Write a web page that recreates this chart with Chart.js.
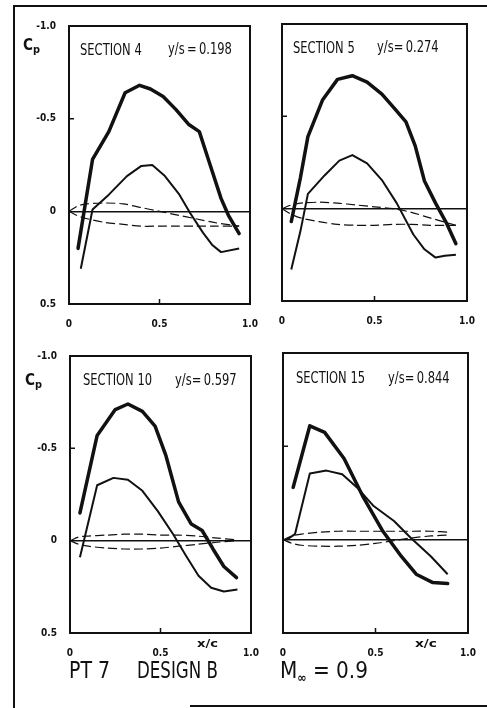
<!DOCTYPE html>
<html><head><meta charset="utf-8">
<script src="https://cdn.jsdelivr.net/npm/chart.js@4.4.0/dist/chart.umd.min.js"></script>
<style>
html,body{margin:0;padding:0;background:#fff;}
#page{position:relative;width:487px;height:708px;overflow:hidden;background:#fff;}
#page canvas{position:absolute;left:0;top:0;}
.t{position:absolute;white-space:nowrap;font-family:"DejaVu Sans Condensed","DejaVu Sans",sans-serif;color:#111;line-height:1;transform-origin:0 0;}
.ln{position:absolute;background:#111;}
</style></head><body>
<div id="page">
  <div class="ln" style="left:13px;top:5px;width:2px;height:703px;"></div>
  <div class="ln" style="left:13px;top:5px;width:474px;height:2px;"></div>
  <div class="ln" style="left:190px;top:705px;width:297px;height:1.5px;"></div>
  <canvas id="c1" width="487" height="708"></canvas>
  <canvas id="c2" width="487" height="708"></canvas>
  <canvas id="c3" width="487" height="708"></canvas>
  <canvas id="c4" width="487" height="708"></canvas>
</div>
<script>
// ---- tick values and labels ----
const xTickValues = [0, 0.5, 1.0];
const xTickLabels = ['0', '0.5', '1.0'];
const yTickValues = [-1.0, -0.5, 0, 0.5];
const yTickLabels = ['-1.0', '-0.5', '0', '0.5'];

// ---- Section 4, y/s = 0.198 ----
const s4UpperX  = [0.05, 0.13, 0.22, 0.31, 0.39, 0.45, 0.52, 0.59, 0.66, 0.72, 0.77, 0.84, 0.88, 0.94];
const s4UpperCp = [0.20, -0.28, -0.43, -0.64, -0.68, -0.66, -0.62, -0.55, -0.47, -0.43, -0.28, -0.07, 0.02, 0.12];
const s4LowerX  = [0.065, 0.13, 0.22, 0.32, 0.40, 0.46, 0.53, 0.61, 0.67, 0.74, 0.79, 0.84, 0.94];
const s4LowerCp = [0.31, -0.01, -0.09, -0.19, -0.245, -0.25, -0.19, -0.09, 0.01, 0.115, 0.18, 0.22, 0.20];
const s4ContourX  = [0, 0.05, 0.10, 0.20, 0.30, 0.40, 0.50, 0.60, 0.70, 0.80, 0.94];
const s4ContourUp = [0, -0.03, -0.04, -0.045, -0.04, -0.02, 0.0, 0.02, 0.04, 0.06, 0.08];
const s4ContourLo = [0, 0.025, 0.04, 0.06, 0.07, 0.08, 0.08, 0.08, 0.08, 0.08, 0.08];

// ---- Section 5, y/s = 0.274 ----
const s5UpperX  = [0.05, 0.10, 0.14, 0.22, 0.30, 0.38, 0.46, 0.54, 0.61, 0.67, 0.72, 0.77, 0.83, 0.89, 0.94];
const s5UpperCp = [0.07, -0.17, -0.39, -0.59, -0.70, -0.72, -0.685, -0.62, -0.54, -0.47, -0.34, -0.15, -0.03, 0.08, 0.19];
const s5LowerX  = [0.05, 0.10, 0.14, 0.23, 0.31, 0.38, 0.46, 0.54, 0.62, 0.71, 0.77, 0.83, 0.88, 0.94];
const s5LowerCp = [0.33, 0.12, -0.08, -0.18, -0.26, -0.29, -0.245, -0.155, -0.03, 0.14, 0.22, 0.265, 0.255, 0.25];
const s5ContourX  = [0, 0.05, 0.10, 0.20, 0.30, 0.40, 0.50, 0.60, 0.70, 0.80, 0.94];
const s5ContourUp = [0, -0.02, -0.03, -0.035, -0.03, -0.02, -0.01, 0.0, 0.02, 0.05, 0.09];
const s5ContourLo = [0, 0.03, 0.05, 0.07, 0.085, 0.09, 0.09, 0.085, 0.085, 0.09, 0.09];

// ---- Section 10, y/s = 0.597 ----
const s10UpperX  = [0.055, 0.15, 0.25, 0.32, 0.40, 0.47, 0.53, 0.60, 0.67, 0.73, 0.79, 0.85, 0.92];
const s10UpperCp = [-0.15, -0.57, -0.71, -0.74, -0.70, -0.62, -0.46, -0.21, -0.09, -0.055, 0.045, 0.14, 0.20];
const s10LowerX  = [0.055, 0.15, 0.24, 0.32, 0.40, 0.485, 0.57, 0.64, 0.71, 0.78, 0.85, 0.925];
const s10LowerCp = [0.09, -0.30, -0.34, -0.33, -0.27, -0.16, -0.035, 0.08, 0.19, 0.255, 0.275, 0.265];
const s10ContourX  = [0, 0.05, 0.10, 0.20, 0.30, 0.40, 0.50, 0.60, 0.70, 0.80, 0.92];
const s10ContourUp = [0, -0.02, -0.025, -0.03, -0.035, -0.035, -0.03, -0.03, -0.025, -0.015, -0.005];
const s10ContourLo = [0, 0.02, 0.03, 0.04, 0.045, 0.045, 0.04, 0.03, 0.02, 0.01, 0];

// ---- Section 15, y/s = 0.844 ----
const s15UpperX  = [0.055, 0.145, 0.225, 0.33, 0.43, 0.54, 0.64, 0.72, 0.81, 0.89];
const s15UpperCp = [-0.28, -0.61, -0.575, -0.435, -0.235, -0.045, 0.09, 0.185, 0.23, 0.235];
const s15LowerX  = [0.02, 0.065, 0.145, 0.235, 0.32, 0.40, 0.49, 0.60, 0.69, 0.80, 0.89];
const s15LowerCp = [0.0, -0.03, -0.355, -0.37, -0.35, -0.28, -0.18, -0.10, -0.01, 0.09, 0.185];
const s15ContourX  = [0, 0.05, 0.10, 0.20, 0.30, 0.40, 0.50, 0.60, 0.70, 0.80, 0.90];
const s15ContourUp = [0, -0.02, -0.03, -0.04, -0.045, -0.045, -0.045, -0.045, -0.045, -0.045, -0.04];
const s15ContourLo = [0, 0.02, 0.03, 0.035, 0.035, 0.03, 0.02, 0.005, -0.01, -0.02, -0.025];

const pts = (xs, ys) => xs.map((x, i) => ({x, y: ys[i]}));
const INK = '#111';

const framePlugin = {
  id: 'frame',
  afterDatasetsDraw(chart) {
    const {ctx, chartArea: a, scales: {x, y}} = chart;
    ctx.save();
    ctx.strokeStyle = INK;
    ctx.lineWidth = 2;
    ctx.strokeRect(a.left, a.top, a.right - a.left, a.bottom - a.top);
    ctx.lineWidth = 1.5;
    ctx.beginPath();
    const py = y.getPixelForValue(-0.5);
    ctx.moveTo(a.left, py); ctx.lineTo(a.left + 5, py);
    const px = x.getPixelForValue(0.5);
    ctx.moveTo(px, a.bottom); ctx.lineTo(px, a.bottom - 5);
    ctx.stroke();
    ctx.restore();
  }
};

function makePanel(id, box, showY, d) {
  const yW = showY ? 40 : 8;
  const xH = 24;
  new Chart(document.getElementById(id), {
    type: 'scatter',
    data: {
      datasets: [
        {data: pts(d.ux, d.uy), showLine: true, borderColor: INK, borderWidth: 3.5, pointRadius: 0, borderJoinStyle: 'round', borderCapStyle: 'round'},
        {data: pts(d.lx, d.ly), showLine: true, borderColor: INK, borderWidth: 2, pointRadius: 0, borderJoinStyle: 'round'},
        {data: pts(d.cx, d.cu), showLine: true, borderColor: INK, borderWidth: 1.2, borderDash: [9, 4], pointRadius: 0, tension: 0.3},
        {data: pts(d.cx, d.cl), showLine: true, borderColor: INK, borderWidth: 1.2, borderDash: [9, 4], pointRadius: 0, tension: 0.3}
      ]
    },
    options: {
      responsive: false, animation: false, devicePixelRatio: 1,
      layout: {padding: {left: box.l - yW, top: box.t, right: 487 - box.r, bottom: 708 - box.b - xH}},
      plugins: {legend: {display: false}, tooltip: {enabled: false}},
      scales: {
        x: {
          type: 'linear', min: 0, max: 1,
          afterBuildTicks: s => { s.ticks = xTickValues.map(v => ({value: v})); },
          afterFit: s => { s.height = xH; },
          ticks: {color: INK, padding: 6, maxRotation: 0, autoSkip: false,
                  font: {family: 'DejaVu Sans Condensed', size: 10, weight: 'bold'},
                  callback: v => xTickLabels[xTickValues.indexOf(v)]},
          grid: {display: false}, border: {display: false}
        },
        y: {
          type: 'linear', min: -1, max: 0.5, reverse: true,
          afterBuildTicks: s => { s.ticks = yTickValues.map(v => ({value: v})); },
          afterFit: s => { s.width = yW; },
          ticks: {display: showY, color: INK, padding: 13, autoSkip: false,
                  font: {family: 'DejaVu Sans Condensed', size: 10, weight: 'bold'},
                  callback: v => yTickLabels[yTickValues.indexOf(v)]},
          grid: {drawTicks: false, lineWidth: 1.5,
                 color: c => (c.tick && c.tick.value === 0) ? INK : 'rgba(0,0,0,0)'},
          border: {display: false}
        }
      }
    },
    plugins: [framePlugin]
  });
}

makePanel('c1', {l: 69, t: 26, r: 250, b: 304}, true,
  {ux: s4UpperX, uy: s4UpperCp, lx: s4LowerX, ly: s4LowerCp, cx: s4ContourX, cu: s4ContourUp, cl: s4ContourLo});
makePanel('c2', {l: 282, t: 24, r: 467, b: 301}, false,
  {ux: s5UpperX, uy: s5UpperCp, lx: s5LowerX, ly: s5LowerCp, cx: s5ContourX, cu: s5ContourUp, cl: s5ContourLo});
makePanel('c3', {l: 70, t: 356, r: 251, b: 633}, true,
  {ux: s10UpperX, uy: s10UpperCp, lx: s10LowerX, ly: s10LowerCp, cx: s10ContourX, cu: s10ContourUp, cl: s10ContourLo});
makePanel('c4', {l: 283, t: 353, r: 468, b: 633}, false,
  {ux: s15UpperX, uy: s15UpperCp, lx: s15LowerX, ly: s15LowerCp, cx: s15ContourX, cu: s15ContourUp, cl: s15ContourLo});

// ---- text ----
const page = document.getElementById('page');
function addText(html, left, cy, fs, width, weight, scale) {
  const d = document.createElement('div');
  d.className = 't';
  d.innerHTML = html;
  d.style.fontSize = fs + 'px';
  d.style.fontWeight = weight || 'normal';
  d.style.left = left + 'px';
  d.style.top = (cy - 0.48 * fs) + 'px';
  page.appendChild(d);
  if (scale) {
    d.style.transform = 'scaleX(' + scale + ')';
  } else if (width) {
    const w = d.getBoundingClientRect().width;
    d.style.transform = 'scaleX(' + (width / w) + ')';
  }
}
const sub = s => '<span style="font-size:0.72em;position:relative;top:0.3em">' + s + '</span>';
const TS = 0.8;

addText('SECTION 4', 80, 50, 16, 0, 'normal', TS);
addText('y/s\u2009=\u20090.198', 168, 49, 16, 0, 'normal', TS);
addText('SECTION 5', 293, 48, 16, 0, 'normal', TS);
addText('y/s=\u20090.274', 377, 47, 16, 0, 'normal', TS);
addText('SECTION 10', 83, 380, 16, 0, 'normal', TS);
addText('y/s=\u20090.597', 175, 380, 16, 0, 'normal', TS);
addText('SECTION 15', 296, 378, 16, 0, 'normal', TS);
addText('y/s=\u20090.844', 388, 378, 16, 0, 'normal', TS);

addText('C' + sub('p'), 23, 45, 15, 17, 'bold');
addText('C' + sub('p'), 25, 380, 15, 17, 'bold');

addText('x/c', 197, 643, 11, 21, 'bold');
addText('x/c', 415, 643, 11, 22, 'bold');

addText('PT 7', 69, 670, 23, 41);
addText('DESIGN B', 137, 670, 23, 81);
addText('M' + '<span style="font-size:0.55em;position:relative;top:0.35em;font-weight:bold">\u221E</span> = 0.9', 280, 670, 23, 88);
</script>
</body></html>
